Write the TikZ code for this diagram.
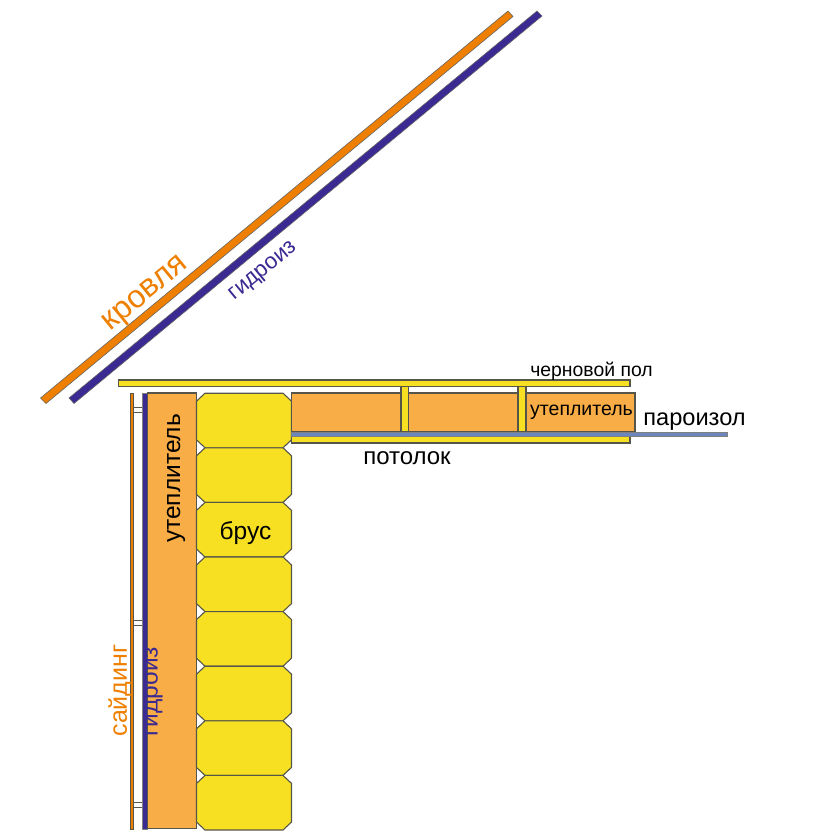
\documentclass[tikz,border=0pt]{standalone}
\usepackage{fontspec}
\setmainfont{Liberation Sans}
\definecolor{woodY}{HTML}{F6E021}
\definecolor{insO}{HTML}{F8AD46}
\definecolor{roofO}{HTML}{EE7F00}
\definecolor{hydB}{HTML}{3B2A92}
\definecolor{parB}{HTML}{6C86BE}
\definecolor{edgeG}{HTML}{55554A}
\tikzset{
  x=1pt,y=-1pt,
  part/.style={draw=edgeG,line width=1.1pt,line join=miter},
  wood/.style={part,fill=woodY},
  insul/.style={part,fill=insO},
  roofstrip/.style={draw=black!60,line width=0.6pt,fill=roofO},
  hydstrip/.style={draw=black!60,line width=0.6pt,fill=hydB},
  clip/.style={draw=edgeG,line width=0.6pt,fill=white},
  lab/.style={inner sep=0pt,text=black},
}
\newcommand{\brick}[1]{\draw[wood] (205,#1) -- (283,#1) -- (291.5,#1+8) -- (291.5,#1+46.6) -- (283,#1+54.6) -- (205,#1+54.6) -- (196.5,#1+46.6) -- (196.5,#1+8) -- cycle;}
\begin{document}
\begin{tikzpicture}
\useasboundingbox (0,0) rectangle (832,840);
% roof
\draw[roofstrip] (40.5,398) -- (508,11) -- (513,16.5) -- (46,403.5) -- cycle;
\draw[hydstrip] (69,398) -- (537,11) -- (542,16) -- (74,403.5) -- cycle;
% clips
\foreach \y in {410,622.5,805}{
  \draw[clip] (133,\y-2.5) rectangle (142,\y+2.5);
}
% wall layers
\draw[draw=edgeG,line width=0.6pt,fill=roofO] (130.5,393) rectangle (133.5,829);
\draw[draw=gray,line width=1pt,fill=hydB] (142,393) rectangle (147,829);
\draw[insul] (147.5,393) rectangle (196.5,828.5);
% logs
\foreach \y in {393.2,447.8,502.4,557,611.6,666.2,720.8,775.4}{\brick{\y}}
% ceiling
\draw[insul] (291.5,393) rectangle (635,432);
\draw[wood] (118.5,380) rectangle (630,386.5);
\draw[wood] (401,386.5) rectangle (408.5,432);
\draw[wood] (518,386.5) rectangle (526,432);
\draw[wood] (291.5,436) rectangle (630,443);
\draw[draw=gray,line width=1pt,fill=parB] (291.5,432) rectangle (727,436);
% labels
\node[lab,text=roofO,font=\fontsize{32}{32}\selectfont,rotate=39.5] (kr) at (146.5,295) {кровля};
\node[lab,text=hydB,font=\fontsize{22.5}{22.5}\selectfont,rotate=39.5] (gr) at (264,272) {гидроиз};
\node[lab,font=\fontsize{19.4}{19.4}\selectfont] (cp) at (591.5,371.5) {черновой пол};
\node[lab,font=\fontsize{19.5}{19.5}\selectfont] (ut2) at (581.5,412) {утеплитель};
\node[lab,font=\fontsize{23.6}{23.6}\selectfont] (pa) at (694.5,422) {пароизол};
\node[lab,font=\fontsize{24}{24}\selectfont] (po) at (407,458) {потолок};
\node[lab,font=\fontsize{24.5}{24.5}\selectfont] (br) at (245.5,533) {брус};
\node[lab,font=\fontsize{24.5}{24.5}\selectfont,rotate=90] (ut1) at (176,478.5) {утеплитель};
\node[lab,text=roofO,font=\fontsize{25}{25}\selectfont,rotate=90] (sa) at (120,690.5) {сайдинг};
\node[lab,text=hydB,font=\fontsize{24.5}{24.5}\selectfont,rotate=90] (gv) at (153.5,691.5) {гидроиз};
\end{tikzpicture}
\end{document}
